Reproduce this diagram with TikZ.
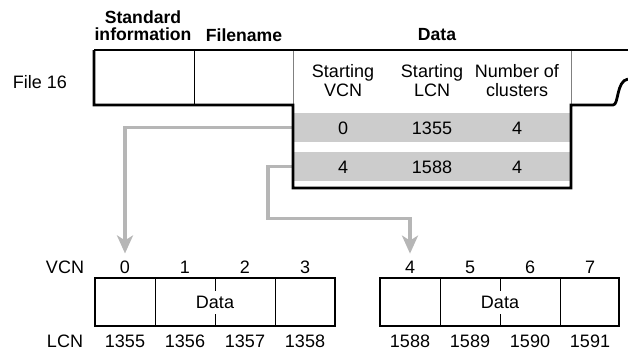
\documentclass[tikz,border=0pt]{standalone}
\usepackage{fontspec}
\setmainfont{Liberation Sans}
\usepackage{xcolor}
\usetikzlibrary{arrows.meta}
\definecolor{rowgray}{RGB}{204,204,204}
\definecolor{arrowgray}{RGB}{182,182,182}
\tikzset{
    plain-text/.style = {inner sep=0pt, align=center, font=\fontsize{18}{19}\selectfont},
    head-text/.style = {inner sep=0pt, align=center, font=\fontsize{17.6}{17}\selectfont\bfseries},
    row-box/.style = {fill=rowgray, rectangle, minimum width=276pt, minimum height=29pt, inner sep=0pt},
    outline/.style = {line width=2.8pt, line join=miter},
    divider/.style = {line width=0.8pt},
    gray-arrow/.style = {draw=arrowgray, line width=3.8pt, shorten >=7pt, -{Stealth[length=18pt,width=16pt,inset=5pt]}},
}

\begin{document}
\begin{tikzpicture}[x=1pt,y=-1pt]
\useasboundingbox (0,0) rectangle (628,351);

% record of file 16
\node[head-text] (stdinfo) at (143,26) {Standard\\information};
\node[head-text] (fname) at (244,35) {Filename};
\node[head-text] (datahead) at (437,35) {Data};
\node[plain-text] (file) at (40,82) {File 16};

\node[row-box] (row1) at (432,127.5) {};
\node[row-box] (row2) at (432,166.5) {};

\node[plain-text] (svcn) at (343,81) {Starting\\VCN};
\node[plain-text] (slcn) at (432,81) {Starting\\LCN};
\node[plain-text] (nclus) at (517,81) {Number of\\clusters};
\node[plain-text] at (343,128) {0};
\node[plain-text] at (432,128) {1355};
\node[plain-text] at (517,128) {4};
\node[plain-text] at (343,167) {4};
\node[plain-text] at (432,167) {1588};
\node[plain-text] at (517,167) {4};

% clusters on disk
\node[plain-text] (vcnlabel) at (65,267) {VCN};
\node[plain-text] (lcnlabel) at (65,341) {LCN};
\foreach \i in {0,...,3} {
    \pgfmathtruncatemacro\lcn{1355+\i}
    \node[plain-text] (v\i) at ({125+60*\i},267) {\i};
    \node[plain-text] (l\i) at ({125+60*\i},341) {\lcn};
}
\foreach \i in {4,...,7} {
    \pgfmathtruncatemacro\lcn{1584+\i}
    \node[plain-text] (v\i) at ({410+60*(\i-4)},267) {\i};
    \node[plain-text] (l\i) at ({410+60*(\i-4)},341) {\lcn};
}
\node[plain-text] (run1) at (215,302) {Data};
\node[plain-text] (run2) at (500,302) {Data};

% arrows from the runs
\draw[gray-arrow] (row1.west) -| (v0.north);
\draw[gray-arrow] (row2.west) -- ++(-26,0) -- ++(0,52) -| (v4.north);

% outlines
\draw[divider] (194,50) -- (194,105);
\draw[divider, gray] (293,50) -- (293,105);
\draw[divider, gray] (571,50) -- (571,105);
\draw[outline] (94,50) -- (628,50);
\draw[outline] (94,50) -- (94,105) -- (293,105) -- (293,188) -- (571,188) -- (571,105) -- (613,105)
    .. controls (619,105) and (616,81) .. (628,79);

\draw[divider] (155,278) -- (155,326) (275,278) -- (275,326)
    (215,278) -- (215,291) (215,314) -- (215,326);
\draw[outline] (95,278) rectangle (335,326);
\draw[divider] (440,278) -- (440,326) (560,278) -- (560,326)
    (500,278) -- (500,291) (500,314) -- (500,326);
\draw[outline] (380,278) rectangle (619,326);
\end{tikzpicture}
\end{document}
